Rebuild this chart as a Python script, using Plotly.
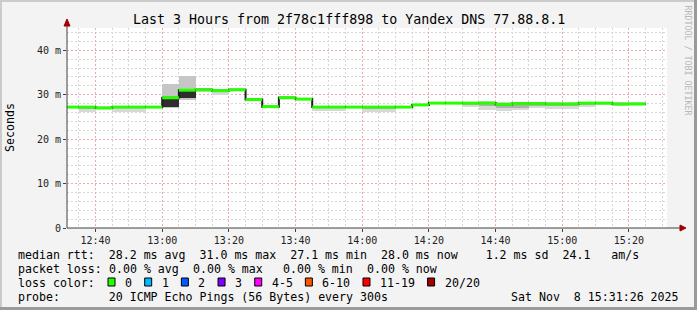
import plotly.graph_objects as go
import pandas as pd

# ---------------- data ----------------
DAY = "2025-11-08"
range_start = "2025-11-08 12:31:26"
range_end = "2025-11-08 15:31:26"

interval_start = ["12:30", "12:35", "12:40", "12:45", "12:50", "12:55",
                  "13:00", "13:05", "13:10", "13:15", "13:20", "13:25",
                  "13:30", "13:35", "13:40", "13:45", "13:50", "13:55",
                  "14:00", "14:05", "14:10", "14:15", "14:20", "14:25",
                  "14:30", "14:35", "14:40", "14:45", "14:50", "14:55",
                  "15:00", "15:05", "15:10", "15:15", "15:20"]

median_ms = [27.2, 27.2, 27.0, 27.2, 27.2, 27.2,
             29.3, 31.0, 31.1, 30.9, 31.1, 28.9,
             27.3, 29.3, 29.0, 27.2, 27.2, 27.2,
             27.2, 27.2, 27.2, 27.7, 28.1, 28.1,
             28.1, 28.1, 27.8, 28.0, 28.0, 27.9,
             27.9, 28.1, 28.1, 27.9, 27.9]

smoke_min = [27.0, 26.0, 26.8, 26.1, 26.1, 27.0,
             26.9, 28.9, 30.6, 30.0, 30.8, 28.6,
             26.9, 29.0, 28.7, 26.3, 26.3, 26.9,
             26.1, 26.1, 26.9, 27.4, 27.8, 27.8,
             27.3, 26.5, 26.3, 26.5, 27.0, 26.8,
             26.8, 27.3, 27.7, 27.5, 27.7]

smoke_max = [27.5, 27.4, 27.5, 27.4, 27.4, 27.4,
             32.4, 34.1, 31.6, 31.2, 31.3, 29.2,
             27.6, 29.6, 29.3, 27.4, 27.4, 27.4,
             27.4, 27.4, 27.4, 27.9, 28.3, 28.3,
             28.1, 28.5, 28.3, 28.3, 28.1, 28.3,
             28.3, 28.3, 28.1, 28.3, 28.3]

smoke_q1 = [27.1, 26.9, 26.9, 27.0, 27.0, 27.1,
            27.3, 29.3, 30.9, 30.6, 31.0, 28.8,
            27.1, 29.2, 28.9, 27.0, 27.0, 27.0,
            26.9, 26.9, 27.0, 27.6, 28.0, 28.0,
            27.8, 27.4, 27.0, 27.1, 27.6, 27.5,
            27.5, 27.7, 27.9, 27.7, 27.8]

smoke_q3 = [27.3, 27.3, 27.2, 27.3, 27.3, 27.3,
            29.1, 30.9, 31.3, 31.0, 31.2, 29.0,
            27.4, 29.4, 29.1, 27.3, 27.3, 27.3,
            27.3, 27.3, 27.3, 27.8, 28.2, 28.2,
            28.1, 28.2, 28.1, 28.0, 28.0, 28.1,
            28.1, 28.2, 28.1, 28.1, 28.1]

y_tick_vals = [0, 10, 20, 30, 40]
y_tick_text = ["0", "10 m", "20 m", "30 m", "40 m"]

loss_labels = ["0", "1", "2", "3", "4-5", "6-10", "11-19", "20/20"]
loss_colors = ["#26ff00", "#00b8ff", "#0059ff", "#7e00ff",
               "#ff00ff", "#ff5500", "#ff0000", "#a10000"]

title_text = "Last 3 Hours from 2f78c1fff898 to Yandex DNS 77.88.8.1"
rtt_line = "median rtt:  28.2 ms avg  31.0 ms max  27.1 ms min  28.0 ms now    1.2 ms sd  24.1   am/s"
loss_parts = [(13, "0.00 % avg"), (25, "0.00 % max"), (38, "0.00 % min"), (50, "0.00 % now")]
probe_line = "probe:       20 ICMP Echo Pings (56 Bytes) every 300s"
date_text = "Sat Nov  8 15:31:26 2025"
y_title = "Seconds"
watermark = "RRDTOOL / TOBI OETIKER"

# ---------------- geometry / style ----------------
W_FIG, H_FIG = 697, 310
L, T, PW, PH = 67, 28, 600, 200
MONO = "DejaVu Sans Mono"
CW = 6.98          # char width of legend font
LFS = 11.6         # legend font size
GREEN = "#26ff00"


def PX(px):
    return (px - L) / PW


def PY(py):
    return (T + PH - py) / PH


def nb(s):
    return s.replace(" ", "\u00a0")


starts = pd.to_datetime([f"{DAY} {t}" for t in interval_start])
step = pd.Timedelta(minutes=5)
ends = starts + step
mids = starts + step / 2

fig = go.Figure()

# outer smoke
outer_col = ["#c6c6c6" if (hi - lo) > 3 else "#d8d8d8" for lo, hi in zip(smoke_min, smoke_max)]
fig.add_trace(go.Bar(x=mids, base=smoke_min,
                     y=[hi - lo for lo, hi in zip(smoke_min, smoke_max)],
                     width=300000, marker=dict(color=outer_col, line=dict(width=0)),
                     hoverinfo="skip"))
# inner (denser) smoke
inner_col = ["#2e2e2e" if (q3 - q1) > 1.5 else "#b0b0b0" for q1, q3 in zip(smoke_q1, smoke_q3)]
fig.add_trace(go.Bar(x=mids, base=smoke_q1,
                     y=[q3 - q1 for q1, q3 in zip(smoke_q1, smoke_q3)],
                     width=300000, marker=dict(color=inner_col, line=dict(width=0)),
                     hoverinfo="skip"))

# dark step connector
fig.add_trace(go.Scatter(x=list(starts) + [ends[-1]], y=median_ms + [median_ms[-1]],
                         mode="lines", line=dict(color="#1c1c1c", width=2, shape="hv"),
                         hoverinfo="skip"))
# green median segments
gx, gy = [], []
for s, e, m in zip(starts, ends, median_ms):
    gx += [s, e, None]
    gy += [m, m, None]
fig.add_trace(go.Scatter(x=gx, y=gy, mode="lines",
                         line=dict(color=GREEN, width=3), hoverinfo="skip"))

shapes = []
# frame
shapes.append(dict(type="rect", xref="paper", yref="paper", x0=PX(0), x1=PX(697), y0=PY(2), y1=PY(0),
                   line=dict(width=0), fillcolor="#cbcbcb"))
shapes.append(dict(type="rect", xref="paper", yref="paper", x0=PX(0), x1=PX(2), y0=PY(310), y1=PY(0),
                   line=dict(width=0), fillcolor="#cbcbcb"))
shapes.append(dict(type="rect", xref="paper", yref="paper", x0=PX(694), x1=PX(697), y0=PY(310), y1=PY(0),
                   line=dict(width=0), fillcolor="#9a9a9a"))
shapes.append(dict(type="rect", xref="paper", yref="paper", x0=PX(0), x1=PX(697), y0=PY(310), y1=PY(307),
                   line=dict(width=0), fillcolor="#9a9a9a"))
# axis lines with arrows
shapes.append(dict(type="line", xref="paper", yref="paper", x0=PX(67), x1=PX(681), y0=PY(228), y1=PY(228),
                   line=dict(color="#404040", width=1)))
shapes.append(dict(type="line", xref="paper", yref="paper", x0=PX(67), x1=PX(67), y0=PY(228), y1=PY(24),
                   line=dict(color="#404040", width=1)))
shapes.append(dict(type="path", xref="paper", yref="paper",
                   path=f"M {PX(680)},{PY(225)} L {PX(686)},{PY(228)} L {PX(680)},{PY(231)} Z",
                   fillcolor="#a00000", line=dict(color="#a00000", width=1)))
shapes.append(dict(type="path", xref="paper", yref="paper",
                   path=f"M {PX(64)},{PY(26)} L {PX(67)},{PY(19)} L {PX(70)},{PY(26)} Z",
                   fillcolor="#a00000", line=dict(color="#a00000", width=1)))

annotations = []
annotations.append(dict(xref="paper", yref="paper", x=PX(348.5), y=PY(19), text=nb(title_text),
                        showarrow=False, xanchor="center", yanchor="middle",
                        font=dict(family=MONO, size=13.3, color="#000")))
annotations.append(dict(xref="paper", yref="paper", x=PX(10), y=PY(128), text=y_title, textangle=-90,
                        showarrow=False, xanchor="center", yanchor="middle",
                        font=dict(family=MONO, size=11.6, color="#000")))
annotations.append(dict(xref="paper", yref="paper", x=PX(687.5), y=PY(60), text=nb(watermark), textangle=90,
                        showarrow=False, xanchor="center", yanchor="middle",
                        font=dict(family=MONO, size=8.3, color="#b8b8b8")))

X0 = 16
annotations.append(dict(xref="paper", yref="paper", x=PX(X0), y=PY(254.5), text=nb(rtt_line),
                        showarrow=False, xanchor="left", yanchor="middle",
                        font=dict(family=MONO, size=LFS, color="#000")))
annotations.append(dict(xref="paper", yref="paper", x=PX(X0), y=PY(268.5), text=nb("packet loss:"),
                        showarrow=False, xanchor="left", yanchor="middle",
                        font=dict(family=MONO, size=LFS, color="#000")))
for idx, txt in loss_parts:
    annotations.append(dict(xref="paper", yref="paper", x=PX(X0 + idx * CW), y=PY(268.5), text=nb(txt),
                            showarrow=False, xanchor="left", yanchor="middle",
                            font=dict(family=MONO, size=LFS, color="#000")))
annotations.append(dict(xref="paper", yref="paper", x=PX(X0), y=PY(282.5), text=nb("loss color:"),
                        showarrow=False, xanchor="left", yanchor="middle",
                        font=dict(family=MONO, size=LFS, color="#000")))
sx = 108.0
for lab, col in zip(loss_labels, loss_colors):
    shapes.append(dict(type="rect", xref="paper", yref="paper", x0=PX(sx), x1=PX(sx + 7), y0=PY(286), y1=PY(278),
                       fillcolor=col, line=dict(color="#000", width=1)))
    annotations.append(dict(xref="paper", yref="paper", x=PX(sx + 15), y=PY(282.5), text=nb(lab),
                            showarrow=False, xanchor="left", yanchor="middle",
                            font=dict(family=MONO, size=LFS, color="#000")))
    sx += 29.7 + CW * len(lab)
annotations.append(dict(xref="paper", yref="paper", x=PX(X0), y=PY(296.5), text=nb(probe_line),
                        showarrow=False, xanchor="left", yanchor="middle",
                        font=dict(family=MONO, size=LFS, color="#000")))
annotations.append(dict(xref="paper", yref="paper", x=PX(681), y=PY(296.5), text=nb(date_text),
                        showarrow=False, xanchor="right", yanchor="middle",
                        font=dict(family=MONO, size=LFS, color="#000")))

grid_minor = "#d6d6d6"
grid_major = "#f3a8a8"

fig.update_layout(
    width=W_FIG, height=H_FIG,
    margin=dict(l=L, r=W_FIG - L - PW, t=T, b=H_FIG - T - PH, pad=0),
    paper_bgcolor="#f3f3f3", plot_bgcolor="#ffffff",
    showlegend=False, barmode="overlay", bargap=0,
    shapes=shapes, annotations=annotations,
    xaxis=dict(type="date", range=[range_start, range_end],
               tick0=f"{DAY} 12:40:00", dtick=1200000, tickformat="%H:%M",
               showgrid=True, gridcolor=grid_major, griddash="2px,2px", gridwidth=1,
               ticks="outside", ticklen=3, tickcolor="#404040", showline=False, zeroline=False,
               tickfont=dict(family=MONO, size=10, color="#222"),
               minor=dict(dtick=300000, tick0=f"{DAY} 12:40:00", showgrid=True,
                          gridcolor=grid_minor, griddash="2px,2px", gridwidth=1, ticks="")),
    yaxis=dict(range=[0, 45], tickvals=y_tick_vals, ticktext=y_tick_text,
               showgrid=True, gridcolor=grid_major, griddash="2px,2px", gridwidth=1,
               ticks="outside", ticklen=3, tickcolor="#404040", showline=False, zeroline=False,
               tickfont=dict(family=MONO, size=10, color="#222"),
               minor=dict(dtick=2, tick0=0, showgrid=True, gridcolor=grid_minor,
                          griddash="2px,2px", gridwidth=1, ticks="")),
)

fig.write_html("out.html", config={"displayModeBar": False})
